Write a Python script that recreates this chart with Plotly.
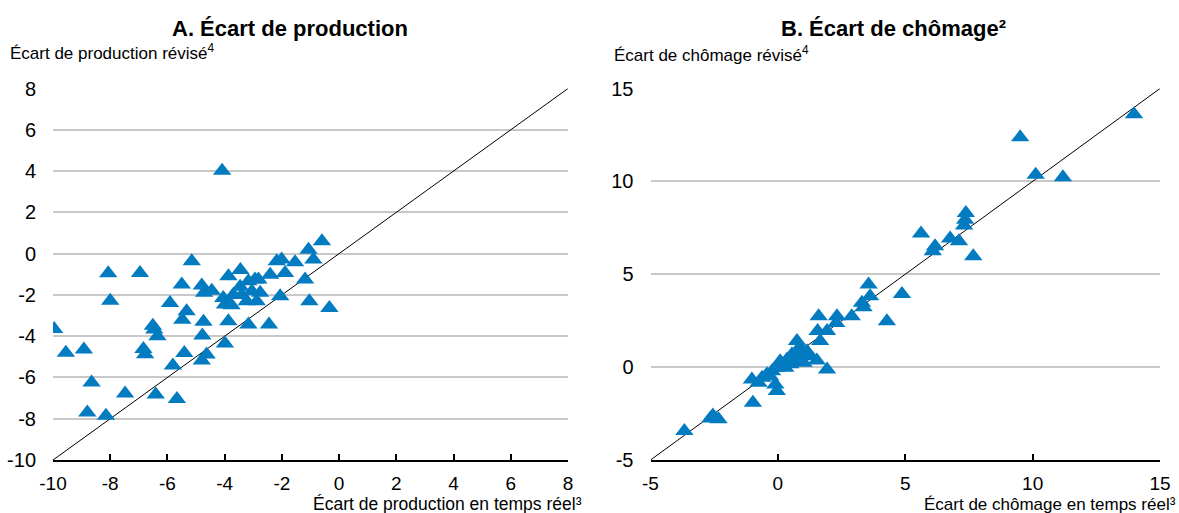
import plotly.graph_objects as go

# Panel A: output gap, real-time estimate vs revised estimate
gap_realtime = [-9.96, -9.55, -8.92, -8.65, -8.8, -8.15, -8.07, -8.0, -6.96, -7.48,
                -6.84, -6.78, -6.51, -6.46, -6.35, -6.41, -5.91, -5.81, -5.67, -5.15,
                -5.5, -5.33, -5.48, -5.41, -4.74, -4.78, -4.63, -4.8, -4.8, -4.72,
                -4.45, -4.09, -3.99, -3.87, -4.05, -3.99, -3.87, -3.76, -3.7, -3.45,
                -3.46, -3.4, -3.23, -3.17, -3.05, -2.94, -2.82, -2.76, -2.88, -3.17,
                -2.45, -2.41, -2.18, -2.01, -1.89, -1.54, -2.06, -1.19, -1.07, -0.9,
                -0.6, -1.04, -0.34]
gap_revised = [-3.65, -4.8, -4.65, -6.25, -7.7, -7.85, -0.95, -2.28, -0.94, -6.78,
               -4.62, -4.88, -3.49, -3.68, -4.0, -6.83, -2.39, -5.42, -7.04, -0.37,
               -1.5, -2.79, -3.2, -4.81, -3.3, -3.97, -4.89, -5.18, -1.55, -1.9,
               -1.8, 4.02, -4.35, -1.1, -2.15, -2.47, -3.28, -2.5, -1.99, -0.8,
               -1.6, -2.0, -2.31, -1.34, -1.82, -1.26, -1.26, -1.9, -2.31, -3.44,
               -3.44, -1.02, -0.37, -0.29, -0.94, -0.42, -2.07, -1.26, 0.19, -0.29,
               0.6, -2.31, -2.63]

# Panel B: unemployment gap, real-time estimate vs revised estimate
unemp_realtime = [-3.67, -2.65, -2.33, -2.55, -1.02, -0.76, -0.98, -0.62, -0.43, -0.23,
                  -0.1, -0.04, -0.04, 0.09, 0.29, 0.36, 0.49, 0.55, 0.75, 0.81,
                  0.88, 1.01, 1.14, 1.27, 1.53, 1.56, 1.6, 1.66, 1.93, 1.93,
                  2.29, 2.32, 2.9, 3.3, 3.36, 3.56, 3.62, 4.28, 4.87, 5.62,
                  6.08, 6.17, 6.76, 7.11, 7.31, 7.35, 7.38, 7.67, 9.51, 10.12,
                  11.19, 13.98, 0.2, 0.6, 1.0, 0.4, -0.3, 0.7]
unemp_revised = [-3.44, -2.76, -2.81, -2.6, -0.66, -0.84, -1.92, -0.57, -0.39, -0.22,
                 -0.93, -1.29, -0.04, 0.32, -0.04, 0.41, 0.15, 0.68, 1.4, 0.32,
                 1.04, 0.23, 0.86, 0.59, 0.36, 1.94, 2.74, 1.4, 1.94, -0.13,
                 2.38, 2.74, 2.74, 3.46, 3.23, 4.45, 3.82, 2.47, 3.94, 7.19,
                 6.24, 6.51, 6.92, 6.77, 7.63, 7.94, 8.3, 5.97, 12.37, 10.36,
                 10.22, 13.62, 0.1, 0.5, 0.6, 0.2, -0.5, 0.8]

# Axis ranges and ticks
a_range = [-10, 8]
a_ticks = [-10, -8, -6, -4, -2, 0, 2, 4, 6, 8]
b_range = [-5, 15]
b_ticks = [-5, 0, 5, 10, 15]

BLUE = "#037bc1"
FONT = "Liberation Sans, Arial, sans-serif"


def tick_text(vals):
    # plain hyphen for negative numbers
    return [str(v) for v in vals]


fig = go.Figure()

# 45-degree reference lines
fig.add_trace(go.Scatter(x=a_range, y=a_range, mode="lines",
                         line=dict(color="black", width=1),
                         xaxis="x", yaxis="y", hoverinfo="skip"))
fig.add_trace(go.Scatter(x=b_range, y=b_range, mode="lines",
                         line=dict(color="black", width=1),
                         xaxis="x2", yaxis="y2", hoverinfo="skip"))

# Scatter points
fig.add_trace(go.Scatter(x=gap_realtime, y=gap_revised, mode="markers",
                         marker=dict(symbol="triangle-up", size=16, color=BLUE,
                                     line=dict(width=0)),
                         xaxis="x", yaxis="y"))
fig.add_trace(go.Scatter(x=unemp_realtime, y=unemp_revised, mode="markers",
                         marker=dict(symbol="triangle-up", size=16, color=BLUE,
                                     line=dict(width=0)),
                         xaxis="x2", yaxis="y2"))

xa = dict(showgrid=False, zeroline=False, showline=True, linecolor="black",
          linewidth=1.5, ticks="inside", ticklen=6, tickwidth=1.5, tickcolor="black",
          tickfont=dict(size=19, color="black", family=FONT),
          ticklabelstandoff=5, automargin=False)
ya = dict(showgrid=True, gridcolor="#c8c8c8", gridwidth=2, zeroline=False,
          showline=False, ticks="", tickfont=dict(size=20, color="black", family=FONT),
          ticklabelstandoff=16, automargin=False)

y_dom = [1 - 460 / 513, 1 - 88.5 / 513]

fig.update_layout(
    width=1179, height=513,
    margin=dict(l=0, r=0, t=0, b=0, autoexpand=False),
    paper_bgcolor="white", plot_bgcolor="white",
    showlegend=False,
    font=dict(family=FONT, color="black"),
    xaxis=dict(xa, domain=[53 / 1179, 568 / 1179], range=a_range,
               tickvals=a_ticks, ticktext=tick_text(a_ticks), anchor="y"),
    yaxis=dict(ya, domain=y_dom, range=a_range, tickvals=a_ticks,
               ticktext=tick_text(a_ticks), anchor="x"),
    xaxis2=dict(xa, domain=[650.5 / 1179, 1160 / 1179], range=b_range,
                tickvals=b_ticks, ticktext=tick_text(b_ticks), anchor="y2"),
    yaxis2=dict(ya, domain=y_dom, range=b_range, tickvals=b_ticks,
                ticktext=tick_text(b_ticks), anchor="x2"),
)


def label(text, x, y, size, xanchor, bold=False):
    fig.add_annotation(text=f"<b>{text}</b>" if bold else text,
                       x=x / 1179, y=1 - y / 513, xref="paper", yref="paper",
                       xanchor=xanchor, yanchor="middle", showarrow=False,
                       font=dict(size=size, family=FONT, color="black"))


label("A. Écart de production", 290, 28, 22, "center", bold=True)
label("B. Écart de chômage²", 893, 28, 22, "center", bold=True)
label("Écart de production révisé<sup>4</sup>", 8, 52, 17, "left")
label("Écart de chômage révisé<sup>4</sup>", 612, 54, 17, "left")
label("Écart de production en temps réel³", 584, 504, 17.5, "right")
label("Écart de chômage en temps réel³", 1178, 504.5, 17, "right")

fig.write_html("out.html")
